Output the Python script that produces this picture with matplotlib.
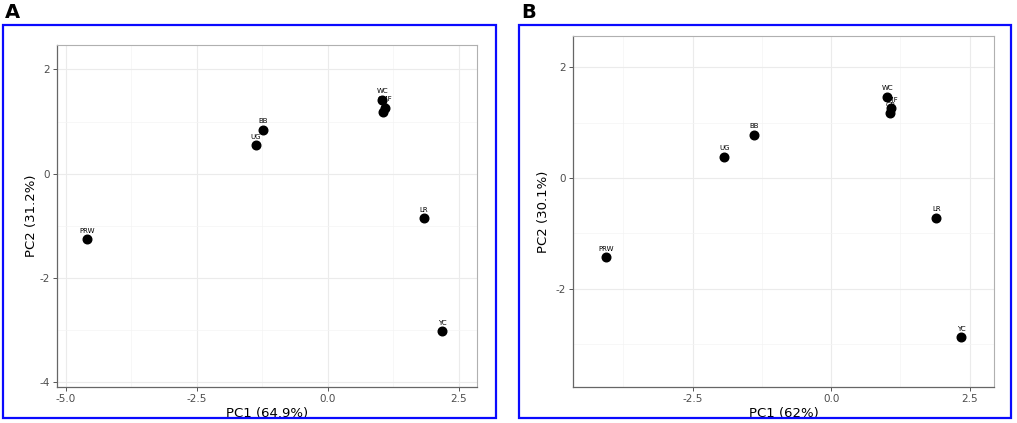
import matplotlib
matplotlib.use("Agg")
import matplotlib.pyplot as plt
from matplotlib.patches import Rectangle
from matplotlib.ticker import MultipleLocator

W, H = 1017, 423

sites = ["PRW", "UG", "BB", "WC", "CMF", "GR", "LR", "YC"]

# panel A (PCA, 64.9% / 31.2%)
pc1_a = [-4.60, -1.37, -1.23, 1.04, 1.10, 1.06, 1.83, 2.19]
pc2_a = [-1.26, 0.54, 0.84, 1.42, 1.26, 1.19, -0.86, -3.03]

# panel B (PCA, 62% / 30.1%)
pc1_b = [-4.06, -1.93, -1.39, 1.01, 1.08, 1.07, 1.90, 2.35]
pc2_b = [-1.43, 0.38, 0.78, 1.46, 1.26, 1.17, -0.72, -2.87]


def px_axes(fig, left, right, top, bottom):
    return fig.add_axes([left / W, 1 - bottom / H, (right - left) / W, (bottom - top) / H])


def draw_panel(ax, x, y, xlab, ylab, xlim, ylim, xticks, yticks, ypad):
    ax.set_xlim(*xlim)
    ax.set_ylim(*ylim)
    ax.set_xticks(xticks)
    ax.set_yticks(yticks)
    ax.set_xticklabels(["%.1f" % v for v in xticks])
    ax.set_yticklabels(["%d" % v for v in yticks])
    ax.xaxis.set_minor_locator(MultipleLocator(1.25))
    ax.yaxis.set_minor_locator(MultipleLocator(1.0))
    ax.grid(True, which="major", color="#ebebeb", lw=0.8)
    ax.grid(True, which="minor", color="#f4f4f4", lw=0.5)
    ax.set_axisbelow(True)
    ax.tick_params(which="major", length=3, width=0.7, color="#555555",
                   labelsize=7.5, labelcolor="#4d4d4d", pad=2)
    ax.tick_params(which="minor", length=0)
    for s in ["top", "right"]:
        ax.spines[s].set_color("#b0b0b0")
        ax.spines[s].set_linewidth(0.8)
    for s in ["left", "bottom"]:
        ax.spines[s].set_color("#666666")
        ax.spines[s].set_linewidth(0.9)
    ax.plot(x, y, "o", color="black", ms=6.2, zorder=3)
    for xi, yi, lab in zip(x, y, sites):
        ax.annotate(lab, (xi, yi), xytext=(0, 4), textcoords="offset points",
                    ha="center", va="bottom", fontsize=5, color="black")
    ax.set_xlabel(xlab, fontsize=9.5, labelpad=2)
    ax.set_ylabel(ylab, fontsize=9.5, labelpad=ypad)


fig = plt.figure(figsize=(W / 100, H / 100), dpi=100)
fig.patch.set_facecolor("white")

# blue frames round each panel
for x0, x1 in [(3, 496), (519, 1011)]:
    fig.add_artist(Rectangle((x0 / W, 1 - 418 / H), (x1 - x0) / W, (418 - 25) / H,
                             transform=fig.transFigure, fill=False,
                             edgecolor="#0a0aff", lw=1.6))
fig.text(5 / W, 1 - 12 / H, "A", fontsize=14, fontweight="bold", va="center", ha="left")
fig.text(521 / W, 1 - 12 / H, "B", fontsize=14, fontweight="bold", va="center", ha="left")

axA = px_axes(fig, 57, 477, 45, 387)
draw_panel(axA, pc1_a, pc2_a, "PC1 (64.9%)", "PC2 (31.2%)",
           (-5.17, 2.85), (-4.1, 2.47), [-5.0, -2.5, 0.0, 2.5], [-4, -2, 0, 2], 1)

axB = px_axes(fig, 573, 994, 36, 387)
draw_panel(axB, pc1_b, pc2_b, "PC1 (62%)", "PC2 (30.1%)",
           (-4.66, 2.94), (-3.77, 2.56), [-2.5, 0.0, 2.5], [-2, 0, 2], 4)

fig.savefig("out.png", dpi=100)
